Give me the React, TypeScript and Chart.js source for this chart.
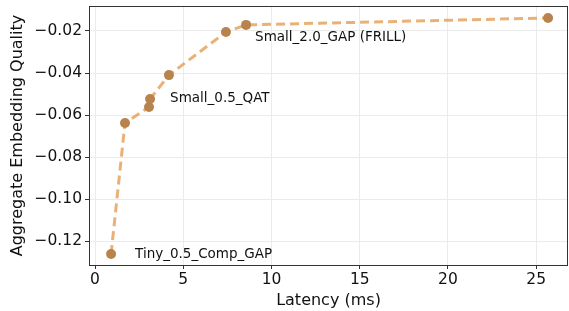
import React, { useEffect, useRef } from "react";
import { Chart, registerables } from "chart.js";

Chart.register(...registerables);

const latencyMs = [0.91, 1.7, 3.06, 3.12, 4.19, 7.42, 8.56, 25.67];
const quality = [-0.1262, -0.0638, -0.0562, -0.0524, -0.041, -0.0205, -0.0171, -0.0138];
const xTicks = [0, 5, 10, 15, 20, 25];
const yTicks = [-0.12, -0.1, -0.08, -0.06, -0.04, -0.02];
const annotations = [
  { index: 0, text: "Tiny_0.5_Comp_GAP", dx: 24, dy: 0 },
  { index: 3, text: "Small_0.5_QAT", dx: 20, dy: -1 },
  { index: 6, text: "Small_2.0_GAP (FRILL)", dx: 9, dy: 13 },
];

const FONT = "'DejaVu Sans', sans-serif";

const fmt = (v: number) => (v < 0 ? "\u2212" : "") + Math.abs(v).toFixed(2);

export default function App() {
  const ref = useRef<HTMLCanvasElement | null>(null);
  useEffect(() => {
    document.body.style.margin = "0";
    const ctx = ref.current!;
    const framePlugin = {
      id: "frame",
      afterDatasetsDraw(chart: any) {
        const { ctx: c, chartArea: a, scales } = chart;
        c.save();
        c.strokeStyle = "#333";
        c.lineWidth = 1;
        c.strokeRect(a.left + 0.5, a.top + 0.5, a.right - a.left - 1, a.bottom - a.top);
        c.fillStyle = "#111";
        c.font = `13.5px ${FONT}`;
        c.textBaseline = "middle";
        c.textAlign = "left";
        annotations.forEach((an) => {
          const x = scales.x.getPixelForValue(latencyMs[an.index]);
          const y = scales.y.getPixelForValue(quality[an.index]);
          c.fillText(an.text, x + an.dx, y + an.dy);
        });
        c.restore();
      },
    };
    const chart = new Chart(ctx, {
      type: "scatter",
      data: {
        datasets: [
          {
            data: latencyMs.map((x, i) => ({ x, y: quality[i] })),
            showLine: true,
            borderColor: "rgba(232,168,104,0.9)",
            borderWidth: 3,
            borderDash: [9, 5],
            pointRadius: 5,
            pointBackgroundColor: "#b9834e",
            pointBorderColor: "#b9834e",
            pointBorderWidth: 0,
            clip: false,
          } as any,
        ],
      },
      options: {
        animation: false,
        responsive: false,
        maintainAspectRatio: false,
        layout: { autoPadding: false, padding: { top: 6, right: 1, left: 0, bottom: 0 } },
        plugins: { legend: { display: false }, tooltip: { enabled: false } },
        scales: {
          x: {
            type: "linear",
            min: -0.34,
            max: 26.8,
            afterBuildTicks: (s: any) => {
              s.ticks = xTicks.map((v) => ({ value: v }));
            },
            afterFit: (s: any) => {
              s.height = 46;
              s.paddingLeft = 0;
              s.paddingRight = 0;
            },
            grid: { color: "#ebebeb", tickColor: "#333", tickLength: 4, drawTicks: true },
            border: { display: false },
            ticks: { color: "#111", font: { family: FONT, size: 15.5 }, padding: 2, maxRotation: 0 },
            title: {
              display: true,
              text: "Latency (ms)",
              color: "#111",
              font: { family: FONT, size: 16 },
              padding: { top: 0, bottom: 1 },
            },
          },
          y: {
            type: "linear",
            min: -0.1314,
            max: -0.0081,
            afterBuildTicks: (s: any) => {
              s.ticks = yTicks.map((v) => ({ value: v }));
            },
            afterFit: (s: any) => {
              s.width = 89;
              s.paddingTop = 0;
              s.paddingBottom = 0;
            },
            grid: { color: "#ebebeb", tickColor: "#333", tickLength: 4 },
            border: { display: false },
            ticks: {
              color: "#111",
              font: { family: FONT, size: 15.5 },
              padding: 3,
              callback: (v: any) => fmt(Number(v)),
            },
            title: {
              display: true,
              text: "Aggregate Embedding Quality",
              color: "#111",
              font: { family: FONT, size: 16 },
              padding: { top: 8, bottom: 0 },
            },
          },
        },
      },
      plugins: [framePlugin],
    });
    return () => chart.destroy();
  }, []);
  return <canvas ref={ref} width={569} height={311} style={{ display: "block" }} />;
}
